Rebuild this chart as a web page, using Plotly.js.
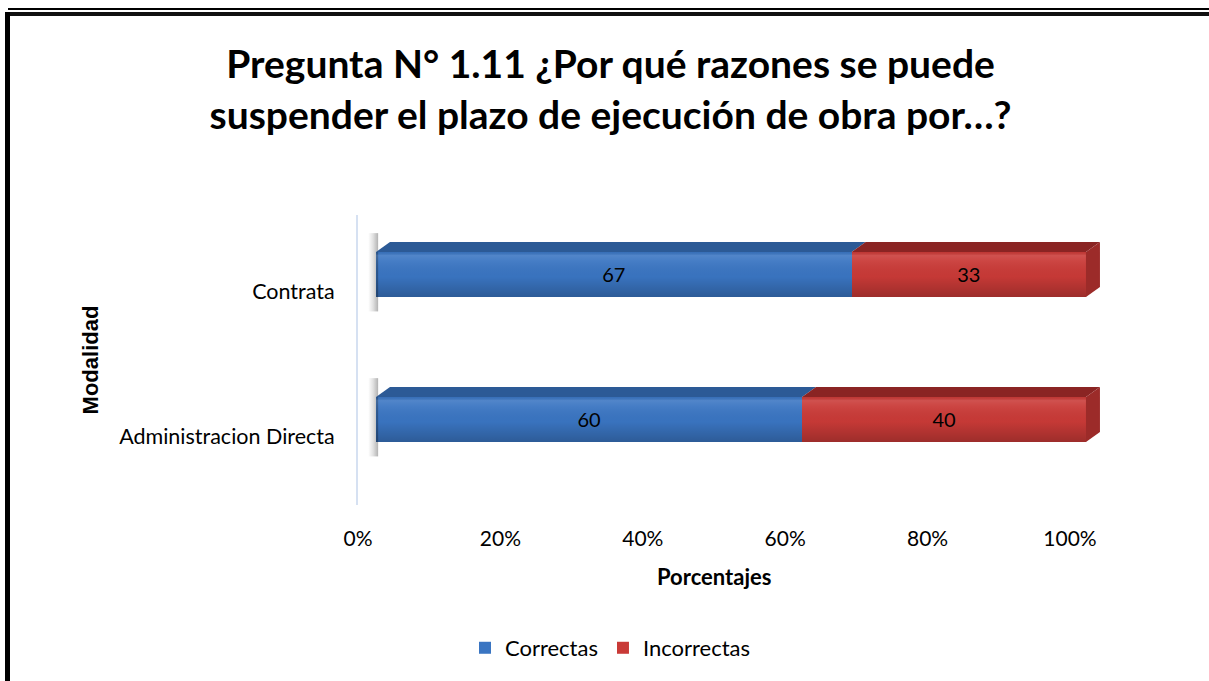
<!DOCTYPE html>
<html>
<head>
<meta charset="utf-8">
<script src="https://cdn.plot.ly/plotly-3.0.1.min.js"></script>
<style>
  html, body { margin: 0; padding: 0; background: #ffffff; }
  #wrap { position: relative; width: 1209px; height: 681px; overflow: hidden; }
  #chart { position: absolute; left: 0; top: 0; width: 1209px; height: 681px; }
  .frame { position: absolute; pointer-events: none; background: #000; }
</style>
</head>
<body>
<div id="wrap">
  <div id="chart"></div>
  <div class="frame" style="left:8px; top:8px; width:1201px; height:2px;"></div>
  <div class="frame" style="left:5px; top:12px; width:1204px; height:4px; background:#111;"></div>
  <div class="frame" style="left:5px; top:12px; width:5px; height:669px;"></div>
</div>
<script>
// ---- data ----
const categories = ['Administracion Directa', 'Contrata'];
const correctas = [60, 67];
const incorrectas = [40, 33];
const seriesNames = ['Correctas', 'Incorrectas'];
const xTickVals = [0, 20, 40, 60, 80, 100];

// ---- style ----
const FONT = 'Lato, "Open Sans", sans-serif';
const blueFront = '#3a75c2', blueTop = '#2c5a96';
const redFront = '#c93a37', redTop = '#8a2423', redSide = '#9c2b29';
const BAR_W = 0.31;          // bar thickness (category units)
const DX = 1.97, DY = 0.069; // 3D depth offset in data units

const catIdx = categories.map((c, i) => i);

const traces = [];
// anchor trace for the labelled axes (invisible)
traces.push({
  type: 'scatter', mode: 'markers', x: correctas, y: catIdx,
  marker: { opacity: 0 }, showlegend: false, hoverinfo: 'skip'
});

// soft shadow at the left end of each bar
catIdx.forEach(i => {
  const top = i + BAR_W / 2, bot = i - BAR_W / 2;
  traces.push({
    type: 'scatter', mode: 'lines', xaxis: 'x2', yaxis: 'y2', showlegend: false, hoverinfo: 'skip',
    x: [-1.1, 0.3, 0.3, -1.1, -1.1], y: [bot - 0.1, bot - 0.1, top + 0.13, top + 0.13, bot - 0.1],
    fill: 'toself', fillcolor: 'rgba(0,0,0,0)', line: { width: 0 },
    fillgradient: { type: 'horizontal', colorscale: [[0, 'rgba(0,0,0,0)'], [0.5, 'rgba(0,0,0,0.12)'], [1, 'rgba(0,0,0,0.3)']] }
  });
});

// front faces (bars)
traces.push({
  type: 'bar', orientation: 'h', name: seriesNames[0],
  y: catIdx, x: correctas, width: BAR_W,
  xaxis: 'x2', yaxis: 'y2',
  marker: { color: blueFront, line: { width: 0 } },
  text: correctas.map(String), textposition: 'inside', insidetextanchor: 'middle',
  textfont: { family: FONT, size: 20, color: '#000' },
  hoverinfo: 'x+name'
});
traces.push({
  type: 'bar', orientation: 'h', name: seriesNames[1],
  y: catIdx, x: incorrectas, width: BAR_W,
  xaxis: 'x2', yaxis: 'y2',
  marker: { color: redFront, line: { width: 0 } },
  text: incorrectas.map(String), textposition: 'inside', insidetextanchor: 'middle',
  textfont: { family: FONT, size: 20, color: '#000' },
  hoverinfo: 'x+name'
});

// 3D top and side faces + shading, computed from the data
catIdx.forEach(i => {
  const top = i + BAR_W / 2, bot = i - BAR_W / 2;
  const a = correctas[i], b = correctas[i] + incorrectas[i];
  traces.push({
    type: 'scatter', mode: 'lines', xaxis: 'x2', yaxis: 'y2', showlegend: false, hoverinfo: 'skip',
    x: [0, b, b, 0, 0], y: [bot, bot, top, top, bot],
    fill: 'toself', fillcolor: 'rgba(0,0,0,0)', line: { width: 0 },
    fillgradient: {
      type: 'vertical',
      colorscale: [[0, 'rgba(0,0,0,0.22)'], [0.45, 'rgba(0,0,0,0.02)'], [0.8, 'rgba(255,255,255,0.06)'], [0.92, 'rgba(255,255,255,0.12)'], [1, 'rgba(0,0,0,0.05)']]
    }
  });
  traces.push({
    type: 'scatter', mode: 'lines', xaxis: 'x2', yaxis: 'y2', showlegend: false, hoverinfo: 'skip',
    x: [0, a, a + DX, DX, 0], y: [top, top, top + DY, top + DY, top],
    fill: 'toself', fillcolor: blueTop, line: { width: 0, color: blueTop }
  });
  traces.push({
    type: 'scatter', mode: 'lines', xaxis: 'x2', yaxis: 'y2', showlegend: false, hoverinfo: 'skip',
    x: [a, b, b + DX, a + DX, a], y: [top, top, top + DY, top + DY, top],
    fill: 'toself', fillcolor: redTop, line: { width: 0, color: redTop }
  });
  traces.push({
    type: 'scatter', mode: 'lines', xaxis: 'x2', yaxis: 'y2', showlegend: false, hoverinfo: 'skip',
    x: [b, b + DX, b + DX, b, b], y: [bot, bot + DY, top + DY, top, bot],
    fill: 'toself', fillcolor: redSide, line: { width: 0, color: redSide }
  });
});

const layout = {
  width: 1209, height: 681,
  margin: { l: 358, r: 104, t: 215, b: 176 },
  paper_bgcolor: '#ffffff', plot_bgcolor: 'rgba(0,0,0,0)',
  barmode: 'stack',
  font: { family: FONT, color: '#000' },
  title: {
    text: 'Pregunta N° 1.11 ¿Por qué razones se puede<br>suspender el plazo de ejecución de obra por…?',
    font: { family: FONT, size: 39, color: '#000', weight: 'bold' },
    x: 0.505, xanchor: 'center', xref: 'container',
    y: 1 - 78 / 681, yanchor: 'middle', yref: 'container'
  },
  xaxis: {
    range: [0, 104.92], tickvals: xTickVals, ticktext: xTickVals.map(v => v + '%'),
    showgrid: false, zeroline: false, showline: false, ticks: '',
    tickfont: { family: FONT, size: 21, color: '#000' },
    ticklabelstandoff: 19,
    fixedrange: true
  },
  yaxis: {
    range: [-0.476, 1.524], tickvals: catIdx, ticktext: categories,
    showgrid: false, zeroline: false, showline: true, linecolor: '#d6e1f2', linewidth: 2,
    ticks: '', tickfont: { family: FONT, size: 21.5, color: '#000' },
    ticklabelstandoff: 17,
    title: { text: 'Modalidad', font: { family: '"Liberation Sans", Arial, sans-serif', size: 22, color: '#000', weight: 'bold' }, standoff: 14 },
    fixedrange: true
  },
  xaxis2: { overlaying: 'x', anchor: 'y2', range: [-2.535, 102.68], visible: false, fixedrange: true },
  yaxis2: { overlaying: 'y', anchor: 'x2', range: [-0.59, 1.41], visible: false, fixedrange: true },
  annotations: [{
    text: 'Porcentajes', xref: 'x', x: 50, yref: 'paper', y: -0.248, yanchor: 'middle', xanchor: 'center',
    showarrow: false, font: { family: FONT, size: 22, color: '#000', weight: 'bold' }
  }],
  showlegend: true,
  legend: {
    orientation: 'h', x: 0.338, xanchor: 'center', y: -0.493, yanchor: 'middle',
    font: { family: FONT, size: 22, color: '#000' }, traceorder: 'normal'
  }
};

Plotly.newPlot('chart', traces, layout, { displayModeBar: false });
</script>
</body>
</html>
